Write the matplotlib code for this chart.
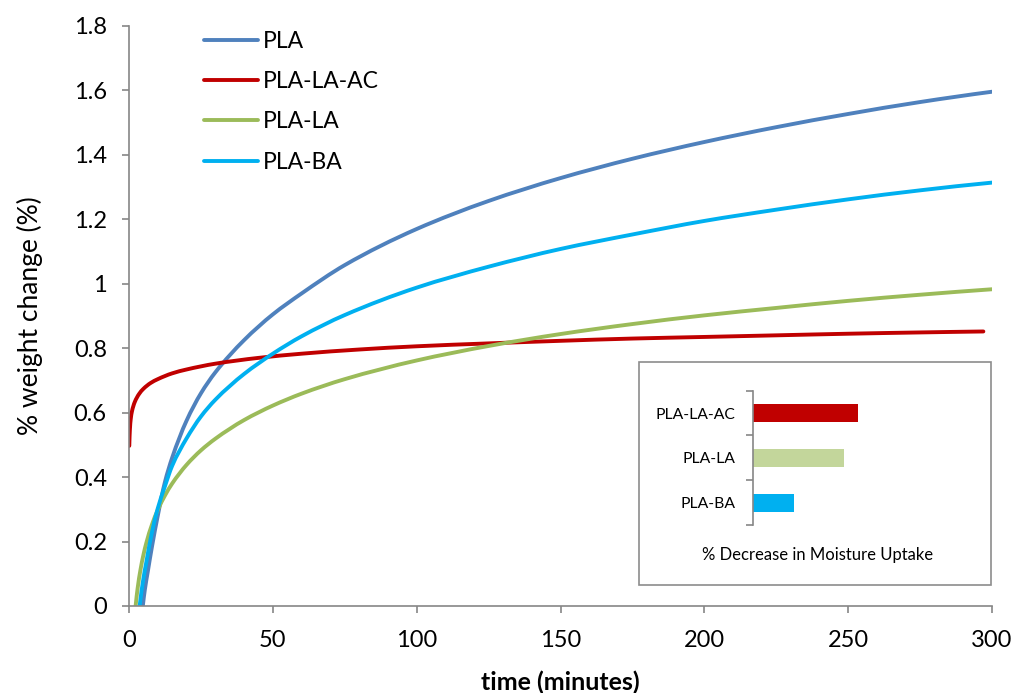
import matplotlib
matplotlib.use("Agg")
import matplotlib.pyplot as plt
from matplotlib.patches import Rectangle, PathPatch
from matplotlib.path import Path
from matplotlib.lines import Line2D

plt.rcParams['font.family'] = ['Lato', 'DejaVu Sans']

# ---- moisture uptake curves: time (min) vs % weight change ----
t_pla = [4.8, 5.5, 6.5, 8, 10, 12.5, 15, 20, 25, 30, 40, 50, 60, 75, 100, 125, 150, 175, 200,
         225, 250, 275, 300]
w_pla = [0, 0.05, 0.105, 0.185, 0.28, 0.385, 0.46, 0.575, 0.66, 0.725, 0.825, 0.905, 0.97,
         1.058, 1.17, 1.257, 1.328, 1.388, 1.440, 1.486, 1.527, 1.564, 1.596]

t_laac = [0.1, 0.3, 0.6, 1, 2, 3.5, 5, 7.5, 10, 15, 20, 30, 45, 60, 80, 100, 125, 150, 175,
          200, 225, 250, 275, 297]
w_laac = [0.497, 0.546, 0.58, 0.603, 0.633, 0.658, 0.674, 0.692, 0.704, 0.722, 0.734, 0.752,
          0.770, 0.783, 0.796, 0.806, 0.815, 0.823, 0.830, 0.835, 0.840, 0.845, 0.849, 0.852]

t_la = [2.3, 3, 4, 5, 6, 8, 10, 12.5, 15, 20, 25, 30, 40, 50, 60, 75, 100, 125, 150, 175, 200,
        225, 250, 275, 300]
w_la = [0, 0.055, 0.113, 0.158, 0.195, 0.253, 0.298, 0.343, 0.380, 0.438, 0.483, 0.519, 0.577,
        0.622, 0.659, 0.704, 0.762, 0.807, 0.844, 0.875, 0.902, 0.925, 0.947, 0.966, 0.983]

t_ba = [3.7, 5, 6, 8, 10, 12.5, 15, 20, 25, 30, 40, 50, 60, 75, 100, 125, 150, 175, 200, 225,
        250, 275, 300]
w_ba = [0, 0.085, 0.135, 0.23, 0.303, 0.372, 0.435, 0.52, 0.588, 0.64, 0.72, 0.783, 0.837,
        0.903, 0.988, 1.053, 1.108, 1.153, 1.195, 1.23, 1.262, 1.29, 1.314]

series_labels = ['PLA', 'PLA-LA-AC', 'PLA-LA', 'PLA-BA']
series_colors = ['#4F81BD', '#C00000', '#9BBB59', '#00B0F0']

x_ticks = [0, 50, 100, 150, 200, 250, 300]
y_ticks = [0, 0.2, 0.4, 0.6, 0.8, 1.0, 1.2, 1.4, 1.6, 1.8]
y_ticklabels = ['0', '0.2', '0.4', '0.6', '0.8', '1', '1.2', '1.4', '1.6', '1.8']

# ---- inset: % decrease in moisture uptake ----
inset_cats = ['PLA-BA', 'PLA-LA', 'PLA-LA-AC']
inset_vals = [17.6, 38.7, 44.8]
inset_colors = ['#00B0F0', '#C3D69B', '#C00000']


def _sign(v):
    return (v > 0) - (v < 0)


def smooth_path(xs, ys):
    """Monotone cubic (PCHIP-style) Bezier path through the given points."""
    n = len(xs)
    h = [xs[i + 1] - xs[i] for i in range(n - 1)]
    d = [(ys[i + 1] - ys[i]) / h[i] for i in range(n - 1)]
    m = [0.0] * n
    for k in range(1, n - 1):
        if d[k - 1] * d[k] <= 0:
            m[k] = 0.0
        else:
            w1 = 2 * h[k] + h[k - 1]
            w2 = h[k] + 2 * h[k - 1]
            m[k] = (w1 + w2) / (w1 / d[k - 1] + w2 / d[k])

    def end_slope(h0, h1, d0, d1):
        s = ((2 * h0 + h1) * d0 - h0 * d1) / (h0 + h1)
        if _sign(s) != _sign(d0):
            return 0.0
        if _sign(d0) != _sign(d1) and abs(s) > 3 * abs(d0):
            return 3 * d0
        return s

    m[0] = end_slope(h[0], h[1], d[0], d[1])
    m[-1] = end_slope(h[-1], h[-2], d[-1], d[-2])
    verts = [(xs[0], ys[0])]
    codes = [Path.MOVETO]
    for i in range(n - 1):
        verts += [(xs[i] + h[i] / 3, ys[i] + m[i] * h[i] / 3),
                  (xs[i + 1] - h[i] / 3, ys[i + 1] - m[i + 1] * h[i] / 3),
                  (xs[i + 1], ys[i + 1])]
        codes += [Path.CURVE4] * 3
    return Path(verts, codes)


W, H = 1018, 693
fig = plt.figure(figsize=(W / 100, H / 100), dpi=100)

ax = fig.add_axes([129 / W, 1 - 606 / H, (992 - 129) / W, (606 - 26) / H])
LW = 2.8
handles = []
for t, w, lab, col in zip([t_pla, t_laac, t_la, t_ba], [w_pla, w_laac, w_la, w_ba],
                          series_labels, series_colors):
    ax.add_patch(PathPatch(smooth_path(t, w), fill=False, edgecolor=col, lw=LW,
                           capstyle='round', joinstyle='round'))
    handles.append(Line2D([], [], color=col, lw=LW, solid_capstyle='round', label=lab))

ax.set_xlim(0, 300)
ax.set_ylim(0, 1.8)
ax.set_xticks(x_ticks)
ax.set_yticks(y_ticks)
ax.set_yticklabels(y_ticklabels)
for s in ['top', 'right']:
    ax.spines[s].set_visible(False)
for s in ['left', 'bottom']:
    ax.spines[s].set_color('#868686')
    ax.spines[s].set_linewidth(1.2)
ax.tick_params(axis='both', colors='#868686', labelcolor='black', labelsize=17,
               length=5, width=1.2, direction='out')
ax.tick_params(axis='x', pad=12.5)
ax.tick_params(axis='y', pad=11)
ax.set_xlabel('time (minutes)', fontsize=18, fontweight='bold', labelpad=14)
ax.set_ylabel('% weight change (%)', fontsize=19, labelpad=22)

ax.legend(handles=handles, loc='upper left', bbox_to_anchor=((204 - 129) / 863, (606 - 31) / 580),
          frameon=False, fontsize=16.5, handlelength=2.36, handletextpad=0.22,
          labelspacing=0.84, borderaxespad=0, borderpad=0)

# inset frame
fig.patches.append(Rectangle((639 / W, 1 - 585 / H), 352 / W, 223 / H, transform=fig.transFigure,
                             facecolor='white', edgecolor='#8C8C8C', lw=1.2, zorder=3))

bx = fig.add_axes([752.7 / W, 1 - 525 / H, (970 - 752.7) / W, (525 - 390.7) / H], zorder=4)
bx.patch.set_alpha(0)
bx.barh(range(len(inset_cats)), inset_vals, height=0.4, color=inset_colors)
bx.set_xlim(0, 92.5)
bx.set_ylim(-0.5, 2.5)
bx.set_yticks(range(len(inset_cats)))
bx.set_yticklabels(inset_cats, fontsize=11.3)
bx.set_yticks([-0.5, 0.5, 1.5, 2.5], minor=True)
bx.tick_params(axis='y', which='major', length=0, pad=12.5)
bx.tick_params(axis='y', which='minor', length=5, width=1.2, color='#868686')
bx.set_xticks([])
for s in ['top', 'right', 'bottom']:
    bx.spines[s].set_visible(False)
bx.spines['left'].set_color('#868686')
bx.spines['left'].set_linewidth(1.2)

fig.text(818 / W, 1 - 555 / H, '% Decrease in Moisture Uptake', ha='center', va='center',
         fontsize=12, zorder=5)

fig.savefig('out.png', dpi=100)
